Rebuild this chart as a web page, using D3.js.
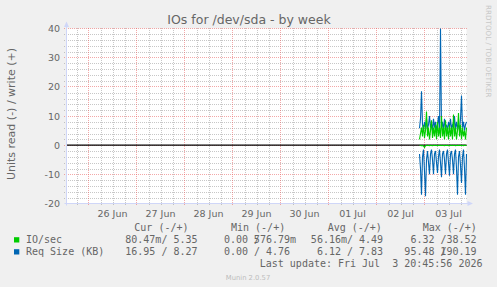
<!DOCTYPE html>
<html><head><meta charset="utf-8">
<script src="https://cdn.jsdelivr.net/npm/d3@7"></script>
<style>body{margin:0;background:#f0f0f0;} svg{display:block} text{white-space:pre}</style>
</head><body><svg id="c" width="497" height="287"></svg>
<script>
// ---------- data ----------
const titleText = "IOs for /dev/sda - by week";
const yLabel = "Units read (-) / write (+)";
const dayLabels = ["26 Jun","27 Jun","28 Jun","29 Jun","30 Jun","01 Jul","02 Jul","03 Jul"];
const yTickValues = [-20,-10,0,10,20,30,40];
// samples every 30 min starting 2026-07-02 21:30 UTC
const ioRead   = [0.05,0.1,0.2,0.1,0.3,0.8,0.2,0.1,0.05,0.1,0.15,0.05,0.1,0.2,0.05,0.1,0.05,0.1,0.2,0.05,0.1,0.05,0.1,0.05,0.1,0.15,0.05,0.1,0.05,0.2,0.1,0.05,0.1,0.05,0.1,0.05,0.2,0.1,0.05,0.1,0.05,0.1,0.05,0.1,0.2,0.05,0.1,0.08];
const ioWrite  = [2,4,6,3,7,2.5,5,11.5,3,6,2,5,8.5,2.5,6,3,7,2,8,3,6,2.5,10,3,6,2,8.5,3,6,2,7,3,6,2,10.5,3,6,2,5,11,3,7,2,6,3,5,2,6];
const reqRead  = [3,8,17,4,1.5,9,17.5,5,2,6,10,3,1.5,5,10,3,2,6,9.5,4,1.5,6,11,3,2,5,10,3,1.5,6,10.5,3,2,5,10,3,1.5,8,17,4,2,7,13,4,1.5,8,17,3];
const reqWrite = [5.8,9,18.5,7,5,8,6,9,5.5,7,10,6,7.5,5,9,6,8,5,7,10,5,40,6,8,5,9,6,7,5,8,6,9,5.5,7,6,10,5,8,6,7,5,9,17,6,8,5,7,8];
const seriesNames  = ["IO/sec","Req Size (KB)"];
const seriesColors = ["#00CC00","#0066B3"];
const legendHeaders = ["Cur (-/+)","Min (-/+)","Avg (-/+)","Max (-/+)"];
const curVals = [["80.47m","5.35"],["16.95","8.27"]];
const minVals = [["0.00","576.79m"],["0.00","4.76"]];
const avgVals = [["56.16m","4.49"],["6.12","7.83"]];
const maxVals = [["6.32","38.52"],["95.48","190.19"]];
const lastUpdate = "Last update: Fri Jul  3 20:45:56 2026";
const watermark = "Munin 2.0.57";
const sideText = "RRDTOOL / TOBI OETIKER";

// ---------- layout ----------
const svg = d3.select("#c");
const L = 66.5, R = 466.5, T = 28.5, B = 203.5;
const t0 = new Date(Date.UTC(2026,5,25,13,0)), t1 = new Date(Date.UTC(2026,6,3,21,0));
const x = d3.scaleUtc().domain([t0,t1]).range([L,R]);
const y = d3.scaleLinear().domain([-20,40]).range([B,T]);
const dataStart = Date.UTC(2026,6,2,21,30), step = 30*60*1000;
const tOf = i => new Date(dataStart + i*step);

const fontSans = "DejaVu Sans, Verdana, sans-serif";
const fontMono = "DejaVu Sans Mono, monospace";
const textCol = "#666666";
const gridCol = "rgba(143,143,143,0.5)";
const mgridCol = "rgba(233,96,96,0.55)";
const axisCol = "#CFD6F8";

svg.append("rect").attr("width",497).attr("height",287).attr("fill","#f0f0f0");
svg.append("rect").attr("x",L).attr("y",T).attr("width",R-L).attr("height",B-T).attr("fill","#fff");

// grid (pixel-aligned dotted lines)
const g = svg.append("g");
const minorY = d3.range(-20,41,2).filter(v => v % 10 !== 0);
g.selectAll(".hy").data(minorY).join("line")
  .attr("x1",64).attr("x2",467).attr("y1",d=>Math.round(y(d))+0.5).attr("y2",d=>Math.round(y(d))+0.5)
  .attr("stroke",gridCol).attr("stroke-dasharray","1,1");
const minorX = d3.utcHour.every(6).range(t0,t1).filter(d => d.getUTCHours() !== 0);
g.selectAll(".vx").data(minorX).join("line")
  .attr("x1",d=>Math.round(x(d))+0.5).attr("x2",d=>Math.round(x(d))+0.5).attr("y1",28).attr("y2",206)
  .attr("stroke",gridCol).attr("stroke-dasharray","1,1");
g.selectAll(".my").data(yTickValues.filter(v=>v!==-20)).join("line")
  .attr("x1",64).attr("x2",467).attr("y1",d=>Math.round(y(d)-0.5)+0.5).attr("y2",d=>Math.round(y(d)-0.5)+0.5)
  .attr("stroke",mgridCol).attr("stroke-dasharray","1,1");
const days = d3.utcDay.range(t0,t1);
g.selectAll(".mx").data(days).join("line")
  .attr("x1",d=>Math.round(x(d)-0.5)+0.5).attr("x2",d=>Math.round(x(d)-0.5)+0.5).attr("y1",28).attr("y2",206)
  .attr("stroke",mgridCol).attr("stroke-dasharray","1,1");

// zero line
svg.append("line").attr("x1",L).attr("x2",R).attr("y1",y(0)).attr("y2",y(0)).attr("stroke","#000").attr("stroke-width",1.3);

// series
const line = d3.line().x((d,i)=>x(tOf(i))).y(d=>y(d));
const drawS = (vals,col) => svg.append("path").attr("d",line(vals)).attr("fill","none").attr("stroke",col).attr("stroke-width",1.1);
drawS(reqRead.map(v=>-v), seriesColors[1]);
drawS(reqWrite, seriesColors[1]);
drawS(ioRead.map(v=>-v), seriesColors[0]);
drawS(ioWrite, seriesColors[0]);

// axes
svg.append("line").attr("x1",L-2).attr("x2",R+2).attr("y1",B).attr("y2",B).attr("stroke",axisCol);
svg.append("line").attr("x1",L).attr("x2",L).attr("y1",B+2).attr("y2",T-2).attr("stroke",axisCol);
svg.append("path").attr("d",`M${L-2.5},${T-1.5}L${L+2.5},${T-1.5}L${L},${T-7}Z`).attr("fill",axisCol);
svg.append("path").attr("d",`M${R+1},${B-2.5}L${R+1},${B+2.5}L${R+6.5},${B}Z`).attr("fill",axisCol);

// tick labels
svg.selectAll(".yl").data(yTickValues).join("text")
  .attr("x",60).attr("y",d=>y(d)+3.5).attr("text-anchor","end")
  .attr("font-family",fontSans).attr("font-size",9.5).attr("fill",textCol).text(d=>d);
svg.selectAll(".xl").data(dayLabels).join("text")
  .attr("x",(d,i)=>x(d3.utcHour.offset(days[i],12))).attr("y",216.5).attr("text-anchor","middle")
  .attr("font-family",fontSans).attr("font-size",9.5).attr("fill",textCol).text(d=>d);

// title & labels
svg.append("text").attr("x",249).attr("y",23.5).attr("text-anchor","middle")
  .attr("font-family",fontSans).attr("font-size",12.5).attr("fill",textCol).text(titleText);
svg.append("text").attr("transform","translate(15,114) rotate(-90)").attr("text-anchor","middle")
  .attr("font-family",fontSans).attr("font-size",11).attr("fill",textCol).text(yLabel);
svg.append("text").attr("transform","translate(486,5) rotate(90)").attr("text-anchor","start")
  .attr("font-family",fontSans).attr("font-size",7.2).attr("fill","#c8c8c8").text(sideText);

// legend
const lg = svg.append("g").attr("font-family",fontMono).attr("font-size",10).attr("fill",textCol);
const probe = lg.append("text").text("0000000000");
const cw = probe.node().getComputedTextLength()/10; probe.remove();
const hdrX = [134.3,231,327.7,422.7];
legendHeaders.forEach((h,i)=>lg.append("text").attr("x",hdrX[i]).attr("y",230.5).text(h));
const rowsY = [242.5,254.5];
const slashX = [161.4,254,347,440.5];
const numEnd = [197.5,290,383,476.5];
const cols = [curVals,minVals,avgVals,maxVals];
seriesNames.forEach((n,r)=>{
  svg.append("rect").attr("x",14).attr("y",rowsY[r]-5.3).attr("width",5.3).attr("height",5.3).attr("fill",seriesColors[r]);
  lg.append("text").attr("x",26).attr("y",rowsY[r]).text(n);
  cols.forEach((c,ci)=>{
    const [rd,wr] = c[r];
    const rtxt = rd + (/[a-zA-Z]$/.test(rd) ? "" : " ") + "/";
    lg.append("text").attr("x",slashX[ci]+cw).attr("y",rowsY[r]).attr("text-anchor","end").text(rtxt);
    const numLen = wr.replace(/[a-zA-Z]$/,"").length;
    lg.append("text").attr("x",numEnd[ci]-numLen*cw).attr("y",rowsY[r]).text(wr);
  });
});
lg.append("text").attr("x",482.5).attr("y",266.5).attr("text-anchor","end").text(lastUpdate);
svg.append("text").attr("x",248).attr("y",279.5).attr("text-anchor","middle")
  .attr("font-family",fontSans).attr("font-size",6.8).attr("fill","#bdbdbd").text(watermark);
</script></body></html>
